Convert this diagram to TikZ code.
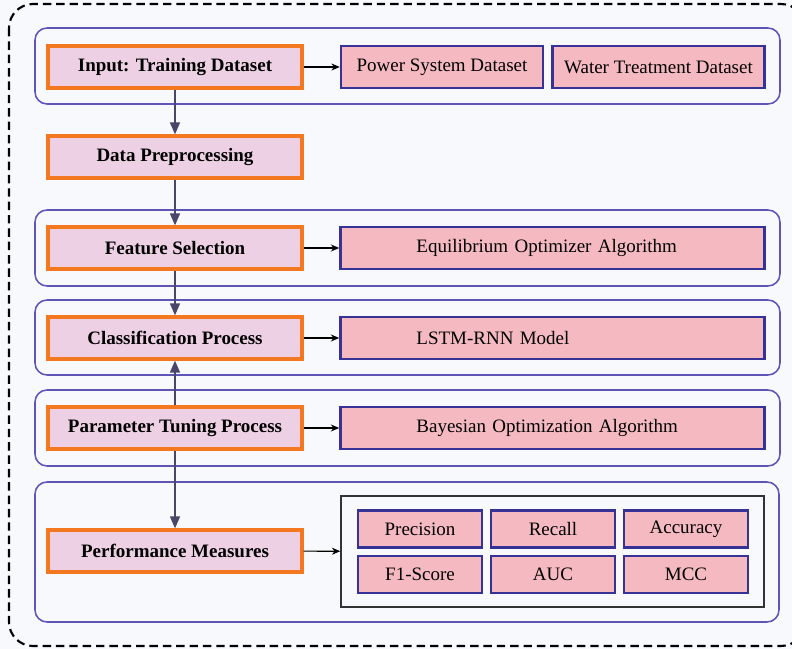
\documentclass[tikz,border=0pt]{standalone}
\usepackage{fontspec}
\setmainfont{Liberation Serif}
\usetikzlibrary{arrows.meta}
\definecolor{stepline}{RGB}{244,120,32}
\definecolor{stepfill}{RGB}{238,208,228}
\definecolor{itemfill}{RGB}{245,186,193}
\definecolor{itemline}{RGB}{55,50,150}
\definecolor{groupline}{RGB}{95,85,185}
\definecolor{flowline}{RGB}{72,70,105}
\definecolor{paper}{RGB}{248,249,252}
\tikzset{
  stepbox/.style={draw=stepline, fill=stepfill, line width=2.3pt, minimum width=6.35cm, minimum height=1.05cm, font=\fontsize{13.5}{16}\selectfont\bfseries},
  itembox/.style={draw=itemline, fill=itemfill, line width=1.7pt, minimum height=1.04cm, font=\fontsize{13.5}{16}\selectfont},
  widebox/.style={itembox, text width=6.8cm, inner xsep=1.9cm, align=left},
  metricbox/.style={itembox, minimum width=3.1cm, minimum height=0.92cm},
  groupbox/.style={draw=groupline, line width=1.1pt, rounded corners=0.3cm},
  flow/.style={draw=flowline, line width=1.4pt, -{Triangle[width=7pt,length=8.5pt]}},
  feed/.style={draw=black, line width=0.8pt, -{Stealth[length=6pt,width=5pt]}}
}
\begin{document}
\begin{tikzpicture}[x=0.025cm, y=-0.025cm]
  \clip (0,0) rectangle (792,649);
  \fill[paper] (0,0) rectangle (792,649);
  \draw[line width=1.5pt, dash pattern=on 6pt off 3.5pt, rounded corners=0.6cm] (9,4) rectangle (805,646);
  \draw[groupbox] (35,28) rectangle (780,104);
  \draw[groupbox] (35,210) rectangle (780,286);
  \draw[groupbox] (35,300) rectangle (780,375);
  \draw[groupbox] (35,390) rectangle (780,466);
  \draw[groupbox] (35,482) rectangle (779,622);
  \node[stepbox] (input) at (175,67) {Input: Training Dataset};
  \node[stepbox] (prep) at (175,157) {Data Preprocessing};
  \node[stepbox] (feat) at (175,248) {Feature Selection};
  \node[stepbox] (class) at (175,338) {Classification Process};
  \node[stepbox] (tune) at (175,428) {Parameter Tuning Process};
  \node[stepbox] (perf) at (175,551) {Performance Measures};
  \node[itembox, minimum width=5.05cm] (power) at (442,67) {Power System Dataset};
  \node[itembox, minimum width=5.3cm] (water) at (658.5,67) {Water Treatment Dataset};
  \node[widebox] (eo) at (552.5,248) {Equilibrium Optimizer Algorithm};
  \node[widebox] (lstm) at (552.5,338) {LSTM-RNN Model};
  \node[widebox] (bayes) at (552.5,428) {Bayesian Optimization Algorithm};
  \node[draw=black!80, line width=0.9pt, minimum width=10.575cm, minimum height=2.775cm] (measures) at (552.5,551.5) {};
  \node[metricbox] (prec) at (420,529) {Precision};
  \node[metricbox] (rec) at (553,529) {Recall};
  \node[metricbox] (acc) at (686,529) {Accuracy};
  \node[metricbox] (f1) at (420,574.5) {F1-Score};
  \node[metricbox] (auc) at (553,574.5) {AUC};
  \node[metricbox] (mcc) at (686,574.5) {MCC};
  \draw[flow] (input) -- (prep);
  \draw[flow] (prep) -- (feat);
  \draw[flow] (feat) -- (class);
  \draw[flow] (tune) -- (class);
  \draw[flow] (tune) -- (perf);
  \draw[feed] (input) -- (power);
  \draw[feed] (feat) -- (eo);
  \draw[feed] (class) -- (lstm);
  \draw[feed] (tune) -- (bayes);
  \draw[feed] (perf) -- (measures);
\end{tikzpicture}
\end{document}
